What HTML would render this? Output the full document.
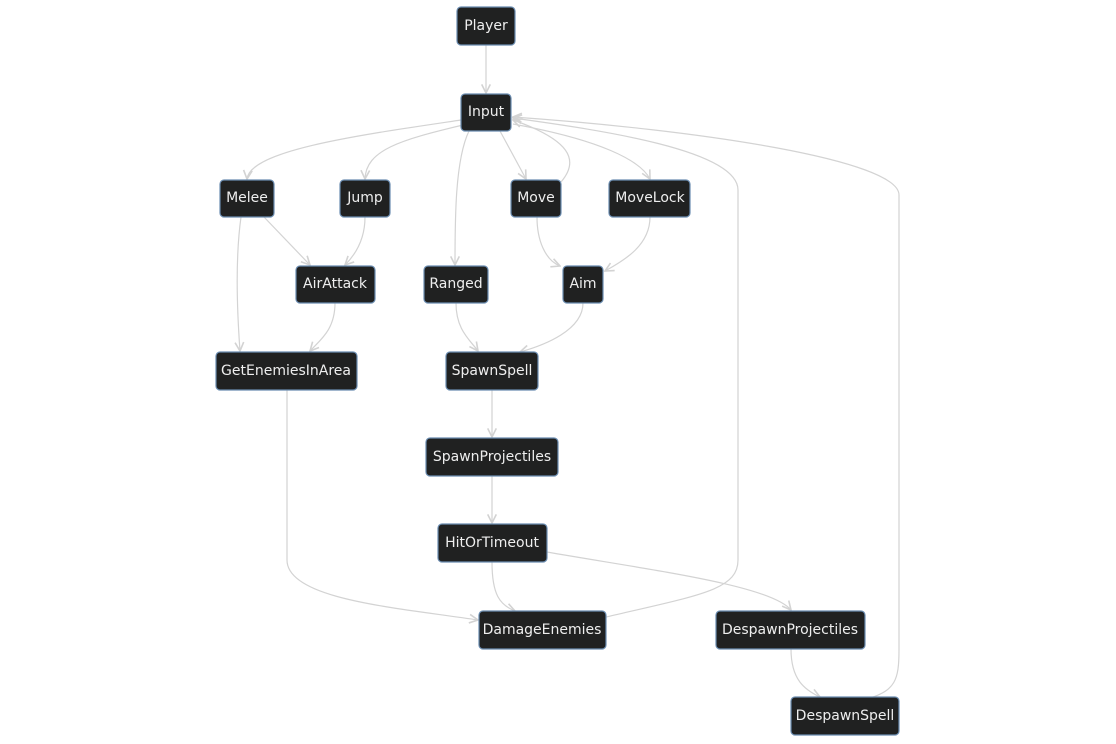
<!DOCTYPE html>
<html><head><meta charset="utf-8"><style>
html,body{margin:0;padding:0;background:#fff;}
svg{display:block;}
text{font-family:"DejaVu Sans","Liberation Sans",sans-serif;font-size:14px;fill:#eee;text-anchor:middle;dominant-baseline:central;}
.n{fill:#202121;stroke:#6a8cb0;stroke-width:1.2;}
.e{fill:none;stroke:#d3d3d3;stroke-width:1.2;}
</style></head><body>
<svg width="1116" height="744" viewBox="0 0 1116 744">
<defs><marker id="a" viewBox="0 0 10 10" refX="9" refY="5" markerWidth="9" markerHeight="9" orient="auto"><path d="M1,1 L9,5 L1,9" fill="none" stroke="#d3d3d3" stroke-width="1.5"/></marker></defs>
<g class="e" marker-end="url(#a)">
<path d="M486,45 L486,93"/>
<path d="M461,120 C360,135 250,150 247,179"/>
<path d="M463,125 C400,140 366,150 365,179"/>
<path d="M500,131 L526,179"/>
<path d="M513,124 C600,140 640,160 650,179"/>
<path d="M469,131 C455,160 455,220 455,265"/>
<path d="M561,182 C580,160 570,140 513,120"/>
<path d="M264,217 L310,265"/>
<path d="M365,217 C365,240 355,255 345,265"/>
<path d="M537,217 C537,240 545,260 560,266"/>
<path d="M650,217 C650,245 625,260 605,271"/>
<path d="M241,217 C235,260 237,310 240,351"/>
<path d="M335,303 C335,330 320,340 310,351"/>
<path d="M456,303 C456,330 470,340 478,351"/>
<path d="M583,303 C583,330 545,345 520,352"/>
<path d="M492,390 L492,437"/>
<path d="M492,476 L492,523"/>
<path d="M287,390 L287,560 C287,600 400,608 478,620"/>
<path d="M492,562 C492,595 500,605 515,611"/>
<path d="M547,552 C650,570 770,585 791,610"/>
<path d="M606,617 C700,595 738,590 738,560 L738,190 C738,150 600,130 513,118"/>
<path d="M791,649 C791,680 805,690 820,697"/>
<path d="M870,698 C895,690 899,680 899,650 L899,195 C899,160 700,130 513,117"/>
</g>
<g>
<rect class="n" x="457" y="7" width="58" height="38" rx="4"/><text x="486" y="26">Player</text>
<rect class="n" x="461" y="94" width="50" height="37" rx="4"/><text x="486" y="112">Input</text>
<rect class="n" x="220" y="180" width="54" height="37" rx="4"/><text x="247" y="198">Melee</text>
<rect class="n" x="340" y="180" width="50" height="37" rx="4"/><text x="365" y="198">Jump</text>
<rect class="n" x="511" y="180" width="50" height="37" rx="4"/><text x="536" y="198">Move</text>
<rect class="n" x="609" y="180" width="81" height="37" rx="4"/><text x="650" y="198">MoveLock</text>
<rect class="n" x="296" y="266" width="79" height="37" rx="4"/><text x="335" y="284">AirAttack</text>
<rect class="n" x="424" y="266" width="64" height="37" rx="4"/><text x="456" y="284">Ranged</text>
<rect class="n" x="563" y="266" width="40" height="37" rx="4"/><text x="583" y="284">Aim</text>
<rect class="n" x="216" y="352" width="141" height="38" rx="4"/><text x="286" y="371">GetEnemiesInArea</text>
<rect class="n" x="446" y="352" width="92" height="38" rx="4"/><text x="492" y="371">SpawnSpell</text>
<rect class="n" x="426" y="438" width="132" height="38" rx="4"/><text x="492" y="457">SpawnProjectiles</text>
<rect class="n" x="438" y="524" width="109" height="38" rx="4"/><text x="492" y="543">HitOrTimeout</text>
<rect class="n" x="479" y="611" width="127" height="38" rx="4"/><text x="542" y="630">DamageEnemies</text>
<rect class="n" x="716" y="611" width="149" height="38" rx="4"/><text x="790" y="630">DespawnProjectiles</text>
<rect class="n" x="791" y="697" width="108" height="38" rx="4"/><text x="845" y="716">DespawnSpell</text>
</g>
</svg>
</body></html>
